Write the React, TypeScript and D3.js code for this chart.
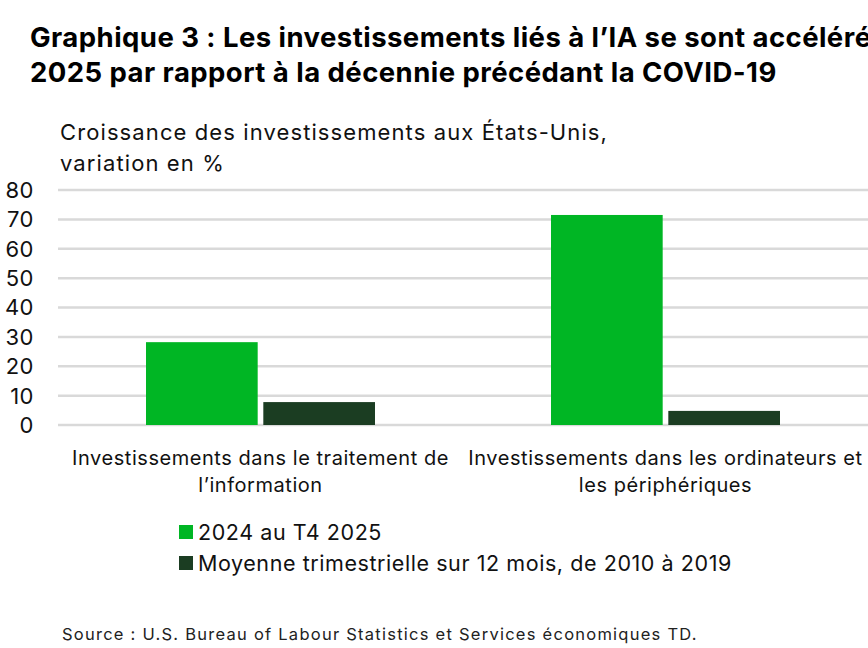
import React from "react";
import * as d3 from "d3";

// Croissance des investissements aux États-Unis, variation en %
const categories = [
  ["Investissements dans le traitement de", "l’information"],
  ["Investissements dans les ordinateurs et", "les périphériques"],
];
const seriesNames = [
  "2024 au T4 2025",
  "Moyenne trimestrielle sur 12 mois, de 2010 à 2019",
];
const recentGrowth = [28.2, 71.5];
const preCovidAvg = [7.8, 4.8];
const yTicks = [0, 10, 20, 30, 40, 50, 60, 70, 80];

const COLORS = ["#00b624", "#1b3d22"];
const W = 868;
const H = 648;
const FONT = "Inter, Roboto, sans-serif";

export default function App() {
  const plot = { left: 58, right: 868, top: 190, bottom: 425 };

  const x0 = d3
    .scaleBand<number>()
    .domain(categories.map((_, i) => i))
    .range([plot.left, plot.right])
    .paddingInner(0)
    .paddingOuter(0);
  const x1 = d3
    .scaleBand<number>()
    .domain([0, 1])
    .range([88, x0.bandwidth() - 88])
    .paddingInner(0.048);
  const y = d3.scaleLinear().domain([0, 80]).range([plot.bottom, plot.top]);

  const series = [recentGrowth, preCovidAvg];

  return (
    <svg
      width={W}
      height={H}
      style={{ position: "absolute", left: 0, top: 0, background: "#fff" }}
      fontFamily={FONT}
    >
      <text x={30} y={47} fontSize={27.5} fontWeight={700} fill="#000" letterSpacing={0.45}>
        Graphique 3 : Les investissements liés à l’IA se sont accélérés en
      </text>
      <text x={30} y={82} fontSize={27.5} fontWeight={700} fill="#000" letterSpacing={0.45}>
        2025 par rapport à la décennie précédant la COVID-19
      </text>

      <text x={60} y={140} fontSize={22} fill="#111" letterSpacing={1.1}>
        Croissance des investissements aux États-Unis,
      </text>
      <text x={60} y={171} fontSize={22} fill="#111" letterSpacing={1.1}>
        variation en %
      </text>

      {yTicks.map((t) => (
        <g key={t}>
          <line
            x1={plot.left}
            x2={plot.right}
            y1={y(t)}
            y2={y(t)}
            stroke="#d9d9d9"
            strokeWidth={2.5}
          />
          <text
            x={34}
            y={y(t)}
            dy="0.36em"
            textAnchor="end"
            fontSize={22}
            fill="#111"
            letterSpacing={0.5}
          >
            {t}
          </text>
        </g>
      ))}

      {categories.map((_, ci) => (
        <g key={ci} transform={`translate(${x0(ci)},0)`}>
          {series.map((vals, si) => (
            <rect
              key={si}
              x={x1(si)}
              y={y(vals[ci])}
              width={x1.bandwidth()}
              height={y(0) - y(vals[ci])}
              fill={COLORS[si]}
            />
          ))}
        </g>
      ))}

      {categories.map((lines, ci) => (
        <text
          key={ci}
          x={(x0(ci) ?? 0) + x0.bandwidth() / 2}
          y={465}
          textAnchor="middle"
          fontSize={20}
          fill="#111"
          letterSpacing={0.55}
        >
          {lines.map((l, li) => (
            <tspan key={li} x={(x0(ci) ?? 0) + x0.bandwidth() / 2} dy={li === 0 ? 0 : 27}>
              {l}
            </tspan>
          ))}
        </text>
      ))}

      {seriesNames.map((name, i) => (
        <g key={name} transform={`translate(179,${532 + i * 31})`}>
          <rect x={0} y={-7} width={14} height={14} fill={COLORS[i]} />
          <text x={19} y={0} dy="0.36em" fontSize={21.5} fill="#111" letterSpacing={0.57}>
            {name}
          </text>
        </g>
      ))}

      <text x={62} y={640} fontSize={16.5} fill="#222" letterSpacing={1.25}>
        Source : U.S. Bureau of Labour Statistics et Services économiques TD.
      </text>
    </svg>
  );
}
